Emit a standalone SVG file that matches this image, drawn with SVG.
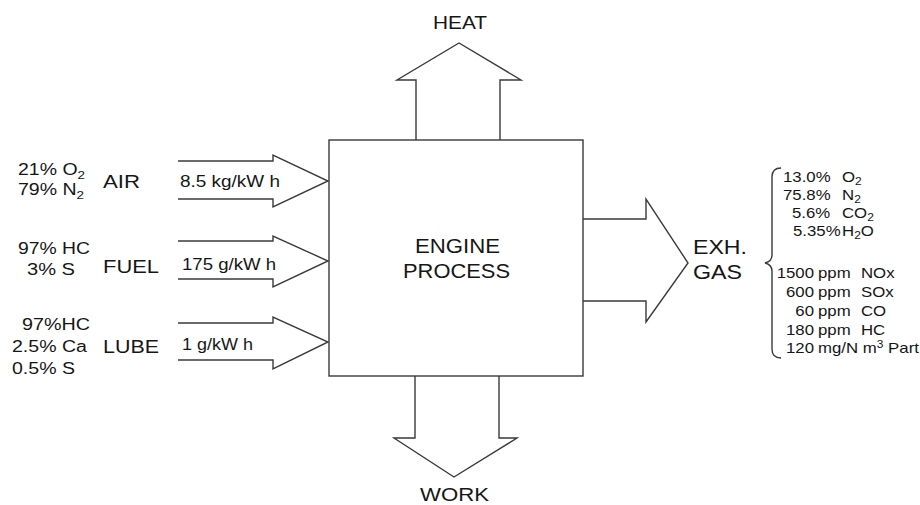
<svg xmlns="http://www.w3.org/2000/svg" width="920" height="505" viewBox="0 0 920 505">
<style>
  text { font-family: "Liberation Sans", Arial, sans-serif; fill: #161616; }
  .lbl { font-size: 19px; }
  .big { font-size: 20px; }
  .cmp { font-size: 16px; }
  .rate { font-size: 16px; }
  .lst { font-size: 14px; }
  .sub { font-size: 11px; }
  .ssub { font-size: 10px; }
  .ln { fill: none; stroke: #3a3a3a; stroke-width: 1.4; stroke-linejoin: miter; }
</style>
<rect width="920" height="505" fill="#ffffff"/>

<g id="connectors">
  <polyline class="ln" points="178,161 273,161 273,155 328,181 273,207 273,199 178,199"/>
  <polyline class="ln" points="178,241 273,241 273,236 328,261 273,287 273,279 178,279"/>
  <polyline class="ln" points="178,323 273,323 273,317 328,342 273,369 273,360 178,360"/>
  <polyline class="ln" points="416,140 416,80 397,80 459,43 521,80 500,80 500,140"/>
  <polyline class="ln" points="415,376 415,438 394,438 454,477 517,438 499,438 499,376"/>
  <polyline class="ln" points="583,219 646,219 646,199 688,263 646,322 646,301 583,301"/>
</g>

<g id="engine">
  <rect x="329" y="140" width="254" height="236" class="ln"/>
  <text class="big" x="457.5" y="253" text-anchor="middle" textLength="85" lengthAdjust="spacingAndGlyphs">ENGINE</text>
  <text class="big" x="456.5" y="278" text-anchor="middle" textLength="107" lengthAdjust="spacingAndGlyphs">PROCESS</text>
</g>

<g id="heat">
  <text class="lbl" x="460" y="29" text-anchor="middle" textLength="54" lengthAdjust="spacingAndGlyphs">HEAT</text>
</g>

<g id="work">
  <text class="lbl" x="454.5" y="501" text-anchor="middle" textLength="69" lengthAdjust="spacingAndGlyphs">WORK</text>
</g>

<g id="air">
  <text class="cmp" x="18" y="175" textLength="67" lengthAdjust="spacingAndGlyphs">21% O<tspan class="sub" dy="4">2</tspan></text>
  <text class="cmp" x="18" y="195" textLength="66" lengthAdjust="spacingAndGlyphs">79% N<tspan class="sub" dy="4">2</tspan></text>
  <text class="lbl" x="103" y="188" textLength="37" lengthAdjust="spacingAndGlyphs">AIR</text>
  <text class="rate" x="180" y="187" textLength="100" lengthAdjust="spacingAndGlyphs">8.5 kg/kW h</text>
</g>

<g id="fuel">
  <text class="cmp" x="18" y="254" textLength="72" lengthAdjust="spacingAndGlyphs">97% HC</text>
  <text class="cmp" x="27" y="275" textLength="48" lengthAdjust="spacingAndGlyphs">3% S</text>
  <text class="lbl" x="103" y="273" textLength="56" lengthAdjust="spacingAndGlyphs">FUEL</text>
  <text class="rate" x="182" y="270" textLength="94" lengthAdjust="spacingAndGlyphs">175 g/kW h</text>
</g>

<g id="lube">
  <text class="cmp" x="22" y="330" textLength="68" lengthAdjust="spacingAndGlyphs">97%HC</text>
  <text class="cmp" x="12" y="352" textLength="75" lengthAdjust="spacingAndGlyphs">2.5% Ca</text>
  <text class="cmp" x="12" y="374" textLength="63" lengthAdjust="spacingAndGlyphs">0.5% S</text>
  <text class="lbl" x="103" y="353" textLength="56" lengthAdjust="spacingAndGlyphs">LUBE</text>
  <text class="rate" x="182" y="350" textLength="71" lengthAdjust="spacingAndGlyphs">1 g/kW h</text>
</g>

<g id="exhaust">
  <text class="big" x="693" y="254" textLength="54" lengthAdjust="spacingAndGlyphs">EXH.</text>
  <text class="big" x="693" y="279" textLength="49" lengthAdjust="spacingAndGlyphs">GAS</text>
  <path class="ln" d="M781,168 C775,168 772,171 772,177 L772,255 C772,260 769,262 765,263 C769,264 772,266 772,271 L772,349 C772,355 775,358 781,358"/>
  <g transform="scale(1.2,1)">
    <text class="lst" x="652.5" y="182">13.0%<tspan x="701.67">O</tspan><tspan class="ssub" dy="3">2</tspan></text>
    <text class="lst" x="652.5" y="200">75.8%<tspan x="701.67">N</tspan><tspan class="ssub" dy="3">2</tspan></text>
    <text class="lst" x="660" y="218">5.6%<tspan x="701.67">CO</tspan><tspan class="ssub" dy="3">2</tspan></text>
    <text class="lst" x="660.8" y="236">5.35%<tspan x="701.67">H</tspan><tspan class="ssub" dy="3">2</tspan><tspan dy="-3">O</tspan></text>
    <text class="lst" x="678.33" y="278" text-anchor="end">1500</text>
    <text class="lst" x="681.67" y="278">ppm<tspan x="717.5">NOx</tspan></text>
    <text class="lst" x="678.33" y="297" text-anchor="end">600</text>
    <text class="lst" x="681.67" y="297">ppm<tspan x="717.5">SOx</tspan></text>
    <text class="lst" x="678.33" y="316" text-anchor="end">60</text>
    <text class="lst" x="681.67" y="316">ppm<tspan x="717.5">CO</tspan></text>
    <text class="lst" x="678.33" y="335" text-anchor="end">180</text>
    <text class="lst" x="681.67" y="335">ppm<tspan x="717.5">HC</tspan></text>
    <text class="lst" x="678.33" y="353" text-anchor="end">120</text>
    <text class="lst" x="681.67" y="353">mg/N m<tspan class="ssub" dy="-5">3</tspan><tspan dy="5"> Part</tspan></text>
  </g>
</g>
</svg>
